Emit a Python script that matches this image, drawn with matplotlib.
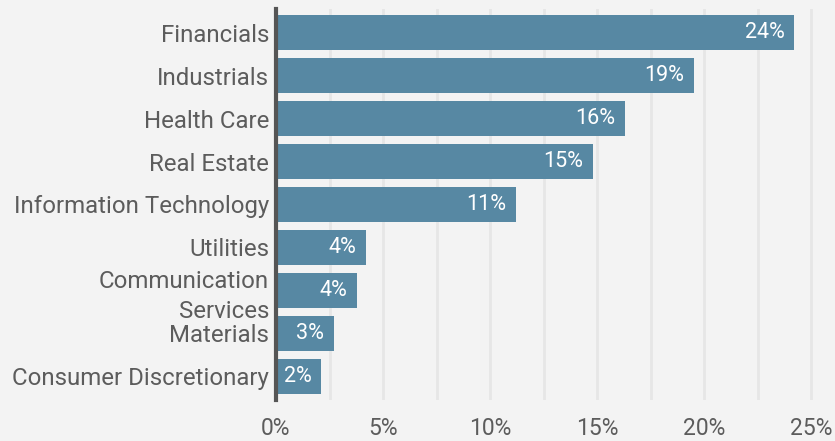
import matplotlib.pyplot as plt

sectors = ["Financials", "Industrials", "Health Care", "Real Estate",
           "Information Technology", "Utilities", "Communication\nServices",
           "Materials", "Consumer Discretionary"]
weights = [24.2, 19.5, 16.3, 14.8, 11.2, 4.2, 3.8, 2.7, 2.1]
labels = ["24%", "19%", "16%", "15%", "11%", "4%", "4%", "3%", "2%"]
xticks = [0, 5, 10, 15, 20, 25]

plt.rcParams['font.family'] = ['Roboto', 'DejaVu Sans']
bg = '#f3f3f3'
bar_color = '#5788a3'
text_color = '#5c5c5c'

fig = plt.figure(figsize=(8.35, 4.41), dpi=100, facecolor=bg)
ax = fig.add_axes([0.3305, 0.093, 0.6695, 0.8866], facecolor=bg)

y = list(range(len(sectors)))
ax.barh(y, weights, height=0.81, color=bar_color, zorder=2)
for yi, w, lab in zip(y, weights, labels):
    ax.text(w - 0.45, yi, lab, color='white', fontsize=15.5,
            ha='right', va='center', zorder=3)

ax.set_ylim(8.55, -0.55)
ax.set_xlim(0, 26.1)
ax.set_yticks(y)
ax.set_yticklabels(sectors, linespacing=1.4)
ax.set_xticks(xticks)
ax.set_xticklabels([f"{t}%" for t in xticks])
ax.set_xticks([x + 2.5 for x in xticks[:-1]], minor=True)

ax.grid(axis='x', which='both', color='#e6e6e6', linewidth=2, zorder=0)
ax.tick_params(axis='both', which='both', length=0, labelcolor=text_color)
ax.tick_params(axis='y', pad=5, labelsize=17.3)
ax.tick_params(axis='x', pad=12, labelsize=16.5)
for side in ['top', 'right', 'bottom']:
    ax.spines[side].set_visible(False)
ax.spines['left'].set_color('#555555')
ax.spines['left'].set_linewidth(3)
ax.spines['left'].set_zorder(4)

plt.savefig('out.png', dpi=100, facecolor=bg)
plt.close()
